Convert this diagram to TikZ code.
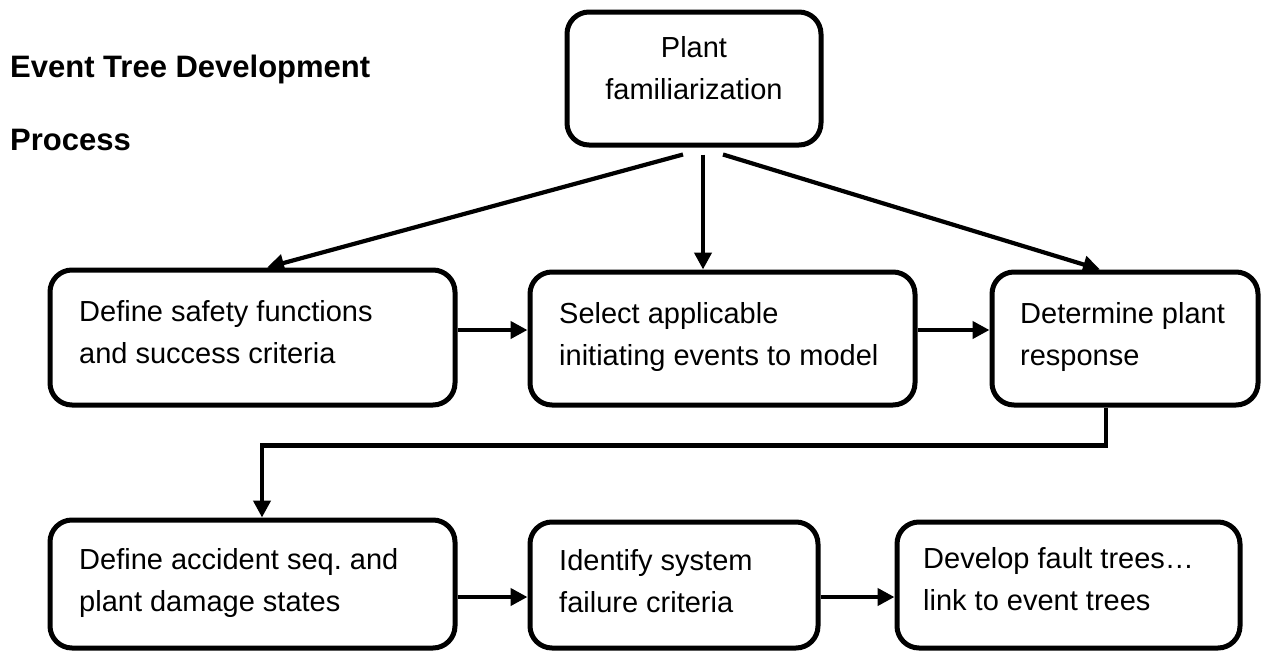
\documentclass[tikz,border=0pt]{standalone}
\usepackage{fontspec}
\setmainfont{Liberation Sans}
\usetikzlibrary{arrows.meta}

\begin{document}
\begin{tikzpicture}[x=1pt,y=-1pt,
    box/.style={draw, line width=5pt, rounded corners=22pt, inner sep=0pt},
    txt/.style={font=\fontsize{29}{42}\selectfont\frenchspacing, align=left, inner sep=0pt, anchor=north west},
    ttl/.style={font=\bfseries\fontsize{31}{36}\selectfont, inner sep=0pt, anchor=base west},
    link/.style={line width=4.2pt, -{Triangle[length=17pt,width=17pt]}}]
  \useasboundingbox (0,0) rectangle (1264,651);

  % title
  \node[ttl] (title1) at (10,77) {Event Tree Development};
  \node[ttl] (title2) at (10,150) {Process};

  % boxes
  \node[box, minimum width=254pt, minimum height=133pt] (fam) at (694,78.5) {};
  \node[txt, align=center, anchor=center] (famtxt) at (694,68) {Plant\\familiarization};

  \node[box, minimum width=405pt, minimum height=135pt] (safety) at (252.5,337.5) {};
  \node[txt] (safetytxt) at (79,300) {Define safety functions\\and success criteria};
  \node[box, minimum width=385pt, minimum height=133pt] (init) at (722.5,338.5) {};
  \node[txt] (inittxt) at (559,302) {Select applicable\\initiating events to model};
  \node[box, minimum width=266pt, minimum height=133pt] (resp) at (1125,338.5) {};
  \node[txt] (resptxt) at (1020,302) {Determine plant\\response};

  \node[box, minimum width=405pt, minimum height=128pt] (seq) at (252.5,584) {};
  \node[txt] (seqtxt) at (79,548) {Define accident seq. and\\plant damage states};
  \node[box, minimum width=288pt, minimum height=126pt] (fail) at (674,585) {};
  \node[txt] (failtxt) at (559,549) {Identify system\\failure criteria};
  \node[box, minimum width=343pt, minimum height=126pt] (fault) at (1068.5,585) {};
  \node[txt] (faulttxt) at (923,547) {Develop fault trees…\\link to event trees};

  % connectors
  \draw[link] ([xshift=-11pt,yshift=-7pt]fam.south) -- ([xshift=14.5pt]safety.north);
  \draw[link] ([xshift=9pt,yshift=-7pt]fam.south) -- ([xshift=-19.5pt]init.north);
  \draw[link] ([xshift=29pt,yshift=-7pt]fam.south) -- ([xshift=-25pt]resp.north);

  \draw[link] ([yshift=7.5pt]safety.east) -- ([yshift=8.5pt]init.west);
  \draw[link] ([yshift=8.5pt]init.east) -- ([yshift=8.5pt]resp.west);

  \draw[link] ([xshift=-19pt]resp.south) -- ++(0,38) -| ([xshift=9.5pt]seq.north);

  \draw[link] ([yshift=-13pt]seq.east) -- ([yshift=-12pt]fail.west);
  \draw[link] ([yshift=-12pt]fail.east) -- ([yshift=-12pt]fault.west);
\end{tikzpicture}
\end{document}
